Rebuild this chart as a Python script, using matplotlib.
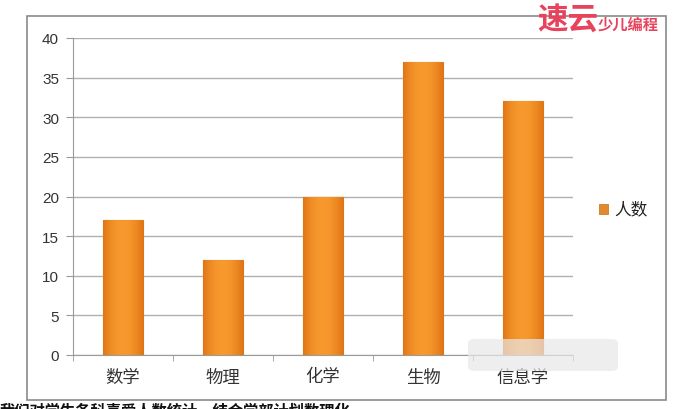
import matplotlib
matplotlib.use("Agg")
import matplotlib.pyplot as plt
import numpy as np
from matplotlib.patches import Rectangle, FancyBboxPatch

plt.rcParams['font.family'] = ['Noto Sans CJK SC', 'DejaVu Sans']

categories = ['数学', '物理', '化学', '生物', '信息学']
values = [17, 12, 20, 37, 32]
series_name = '人数'
y_ticks = [0, 5, 10, 15, 20, 25, 30, 35, 40]

W, H = 693, 410
fig = plt.figure(figsize=(W / 100, H / 100), dpi=100)
fig.patch.set_facecolor('white')

# outer chart border
fig.patches.append(Rectangle((27 / W, 1 - 401 / H), (666 - 27) / W, (401 - 17) / H,
                             transform=fig.transFigure, fill=False,
                             edgecolor='#8a8a8a', linewidth=1.2))

ax = fig.add_axes([73 / W, 1 - 356 / H, 500 / W, 317 / H])
x = np.arange(len(categories))
bars = ax.bar(x, values, width=0.4, color='#F08C1E', edgecolor='#D9781A',
              linewidth=0.8, zorder=3, label=series_name)

# horizontal gradient inside each bar
grad = np.linspace(-1, 1, 64)
prof = 1 - np.abs(grad) ** 2
c_edge = np.array([0.88, 0.46, 0.08])
c_mid = np.array([0.97, 0.60, 0.18])
img = (c_edge[None, :] + (c_mid - c_edge)[None, :] * prof[:, None])[None, :, :]
for b in bars:
    bx, by, bw, bh = b.get_x(), b.get_y(), b.get_width(), b.get_height()
    im = ax.imshow(img, extent=[bx, bx + bw, by, by + bh], aspect='auto',
                   zorder=3.5, interpolation='bilinear')
    im.set_clip_path(b)

ax.set_xlim(-0.5, len(categories) - 0.5)
ax.set_ylim(0, 40)
ax.set_yticks(y_ticks)
ax.set_yticklabels([str(v) for v in y_ticks], fontsize=11, color='#333333',
                   family=['Liberation Sans', 'DejaVu Sans'])
ax.set_xticks(x)
ax.set_xticklabels(categories, fontsize=12.5, color='#333333')
ax.set_xticks(np.arange(-0.5, len(categories)), minor=True)
ax.tick_params(axis='x', which='major', length=0, pad=9)
ax.tick_params(axis='x', which='minor', length=4, color='#9a9a9a', direction='out')
ax.tick_params(axis='y', length=5, color='#9a9a9a', pad=5)
ax.grid(axis='y', color='#b0b0b0', linewidth=1.0, zorder=0)
ax.set_axisbelow(True)
for s in ['top', 'right']:
    ax.spines[s].set_visible(False)
ax.spines['left'].set_color('#9a9a9a')
ax.spines['bottom'].set_color('#9a9a9a')
ax.set_facecolor('white')

# legend
fig.patches.append(Rectangle((599 / W, 1 - 215 / H), 9 / W, 10 / H,
                             transform=fig.transFigure, facecolor='#E08A30',
                             edgecolor='#D07A20', linewidth=0.6))
fig.text(614 / W, 1 - 210 / H, series_name, fontsize=12, color='#222222',
         va='center', ha='left')

# mosaic (blur) over last label
fig.patches.append(FancyBboxPatch((468 / W, 1 - 372 / H), 150 / W, 32 / H,
                                  boxstyle='round,pad=0.0,rounding_size=0.01',
                                  transform=fig.transFigure, facecolor='#e8e8e8',
                                  edgecolor='none', alpha=0.7, zorder=5))

# watermark
fig.text(537 / W, 1 - 21 / H, '速云', fontsize=22, color='#E8435C', fontweight='bold',
         va='center', ha='left', style='italic')
fig.text(598 / W, 1 - 25 / H, '少儿编程', fontsize=11, color='#E8435C', fontweight='bold',
         va='center', ha='left', style='italic')

# partially visible caption at bottom (cut off in the reference too)
fig.text(0 / W, 1 - 403 / H, '我们对学生各科喜爱人数统计，结合学部计划数理化', fontsize=11,
         color='#111111', fontweight='bold', va='top', ha='left')

fig.savefig('out.png', dpi=100)
